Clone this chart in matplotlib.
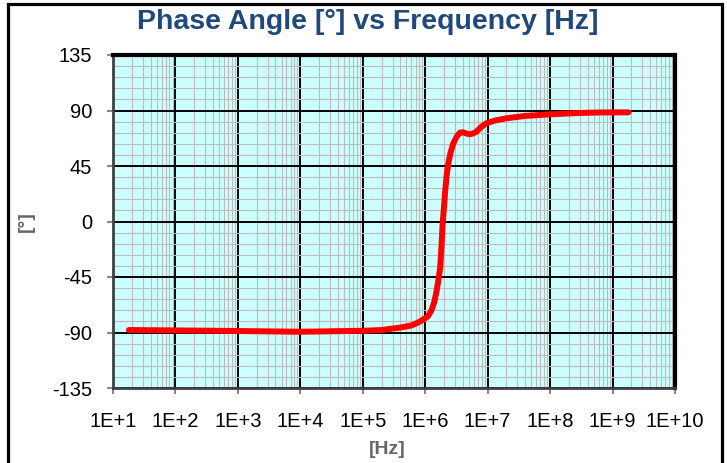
import matplotlib
matplotlib.use("Agg")
import matplotlib.pyplot as plt
from matplotlib.patches import Rectangle
from matplotlib.ticker import LogLocator, MultipleLocator, NullFormatter

# data
freq_hz = [18, 1e2, 1e3, 1e4, 1e5, 2e5, 4e5, 6e5, 8e5, 1.1e6, 1.26e6, 1.4e6,
           1.5e6, 1.62e6, 1.74e6, 1.82e6, 1.9e6, 2.0e6, 2.09e6, 2.2e6, 2.34e6,
           2.55e6, 2.8e6, 3.2e6, 3.6e6, 4.0e6, 4.6e6, 5.2e6, 5.9e6, 6.6e6,
           7.8e6, 9.5e6, 1.3e7, 2e7, 4e7, 1e8, 3e8, 6.3e8, 1.8e9]
phase_deg = [-88, -88.3, -88.8, -89.4, -88.6, -88, -86, -84.3, -81.5, -77,
             -72, -65, -58, -48, -37, -20, -2, 12, 25, 37, 47,
             56, 63, 69, 72, 72.4, 71.3, 70.7, 71.5, 72.8,
             76.5, 79.6, 81.8, 83.7, 85.6, 86.9, 88, 88.4, 88.5]

x_ticks = [10.0 ** k for k in range(1, 11)]
x_tick_labels = ["1E+%d" % k for k in range(1, 11)]
y_ticks = [-135, -90, -45, 0, 45, 90, 135]

plt.rcParams["font.family"] = ["Liberation Sans", "DejaVu Sans"]
plt.rcParams["axes.unicode_minus"] = False

fig = plt.figure(figsize=(7.27, 4.63), dpi=100)
ax = fig.add_axes([113 / 727, 1 - 388 / 463, 562 / 727, 333 / 463])
ax.set_facecolor("#ccffff")

ax.plot(freq_hz, phase_deg, color="#ff0000", linewidth=4.3,
        solid_capstyle="round", solid_joinstyle="round", zorder=3)

ax.set_xscale("log")
ax.set_xlim(10, 1e10)
ax.set_ylim(-135, 135)
ax.set_xticks(x_ticks)
ax.set_xticklabels(x_tick_labels)
ax.set_yticks(y_ticks)
ax.xaxis.set_minor_locator(LogLocator(base=10, subs=range(2, 10), numticks=100))
ax.xaxis.set_minor_formatter(NullFormatter())
ax.yaxis.set_minor_locator(MultipleLocator(9))

ax.set_axisbelow(True)
ax.grid(which="minor", color="#bcbcbc", linewidth=0.8)
ax.grid(which="major", color="black", linewidth=1.4)

ax.tick_params(which="major", length=4, width=1.5, color="#888888",
               labelsize=14.5, pad=11)
ax.tick_params(axis="x", which="major", pad=13)
ax.tick_params(which="minor", length=0)

for side in ["top", "right"]:
    ax.spines[side].set_color("black")
    ax.spines[side].set_linewidth(3)
for side in ["left", "bottom"]:
    ax.spines[side].set_color("#404040")
    ax.spines[side].set_linewidth(2)

fig.text(368 / 727, 1 - 22 / 463, "Phase Angle [°] vs Frequency [Hz]",
         ha="center", va="center", fontsize=20.5, fontweight="bold",
         color="#1f497d")
fig.text(387 / 727, 1 - 449 / 463, "[Hz]", ha="center", va="center",
         fontsize=14, fontweight="bold", color="#666666")
fig.text(26 / 727, 1 - 222 / 463, "[°]", ha="center", va="center",
         rotation=90, fontsize=14, fontweight="bold", color="#666666")

# chart area border
fig.patches.append(Rectangle((8 / 727, -0.05), 714 / 727, 1.05 - 4 / 463,
                             transform=fig.transFigure, fill=False,
                             edgecolor="black", linewidth=2.3))

fig.savefig("out.png", dpi=100)
